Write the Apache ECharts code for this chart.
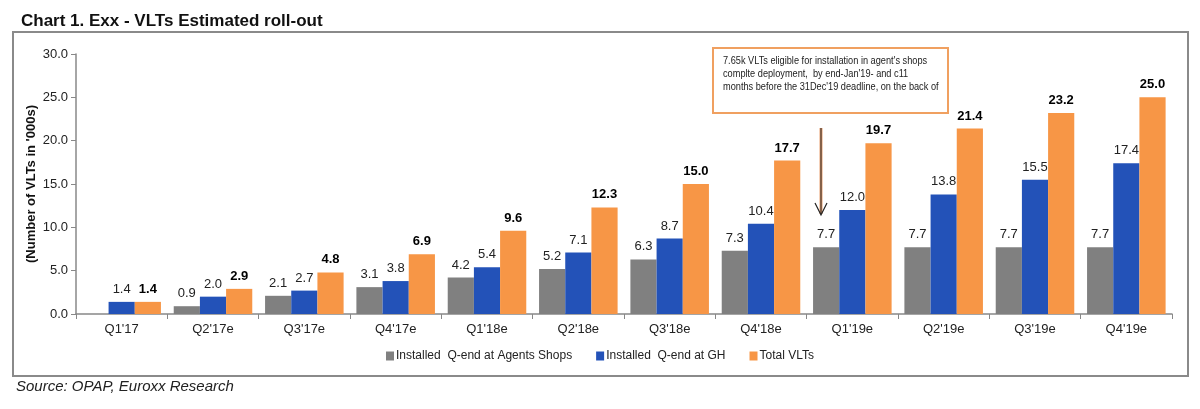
<!DOCTYPE html>
<html><head><meta charset="utf-8">
<script src="https://cdn.jsdelivr.net/npm/echarts@6/dist/echarts.min.js"></script>
<style>html,body{margin:0;padding:0;background:#fff;}#c{width:1200px;height:409px;}</style>
</head><body><div id="c"></div>
<script>
const categories = ["Q1'17","Q2'17e","Q3'17e","Q4'17e","Q1'18e","Q2'18e","Q3'18e","Q4'18e","Q1'19e","Q2'19e","Q3'19e","Q4'19e"];
const agentsShops = [null,0.9,2.1,3.1,4.2,5.2,6.3,7.3,7.7,7.7,7.7,7.7];
const atGH = [1.4,2.0,2.7,3.8,5.4,7.1,8.7,10.4,12.0,13.8,15.5,17.4];
const totalVLTs = [1.4,2.9,4.8,6.9,9.6,12.3,15.0,17.7,19.7,21.4,23.2,25.0];
const yTicks = [0,5,10,15,20,25,30];
const seriesNames = ["Installed  Q-end at Agents Shops","Installed  Q-end at GH","Total VLTs"];

const sans = 'Arial, "Liberation Sans", sans-serif';
const chart = echarts.init(document.getElementById('c'), null, {renderer:'canvas'});
const lbl = (bold) => ({show:true, position:'top', distance:6, fontFamily:sans, fontSize:13, color: bold?'#000':'#222', fontWeight: bold?'bold':'normal', formatter: p => p.value==null?'':Number(p.value).toFixed(1)});
chart.setOption({
  animation:false,
  title:{text:'Chart 1. Exx - VLTs Estimated roll-out', left:16, top:8, textStyle:{fontFamily:sans, fontSize:17, fontWeight:'bold', color:'#111'}},
  grid:{left:76, right:28, top:54, bottom:95},
  legend:{bottom:42, left:'center', itemWidth:8, itemHeight:9, itemGap:24, icon:'rect',
    textStyle:{fontFamily:sans, fontSize:12, color:'#222', padding:[0,0,0,-3]}, data:seriesNames},
  xAxis:{type:'category', data:categories,
    axisLine:{lineStyle:{color:'#888', width:1.5}},
    axisTick:{show:true, length:5, lineStyle:{color:'#888'}},
    axisLabel:{fontFamily:sans, fontSize:13, color:'#222', margin:9}},
  yAxis:{type:'value', min:yTicks[0], max:yTicks[yTicks.length-1], interval:5,
    name:"(Number of VLTs in '000s)", nameLocation:'middle', nameGap:38, nameRotate:90, nameMoveOverlap:false,
    nameTextStyle:{fontFamily:sans, fontSize:13, fontWeight:'bold', color:'#111'},
    axisLine:{show:true, lineStyle:{color:'#888', width:1.5}},
    axisTick:{show:true, length:5, inside:false, lineStyle:{color:'#888'}},
    splitLine:{show:false},
    axisLabel:{fontFamily:sans, fontSize:13, color:'#222', formatter: v => v.toFixed(1)}},
  series:[
    {name:seriesNames[0], type:'bar', data:agentsShops, barGap:'0%', barCategoryGap:'14%', itemStyle:{color:'#808080'}, label:lbl(false)},
    {name:seriesNames[1], type:'bar', data:atGH, barGap:'0%', barCategoryGap:'14%', itemStyle:{color:'#2352B8'}, label:lbl(false)},
    {name:seriesNames[2], type:'bar', data:totalVLTs, barGap:'0%', barCategoryGap:'14%', itemStyle:{color:'#F79646'}, label:lbl(true)}
  ],
  graphic:[
    {type:'rect', shape:{x:13, y:32, width:1175, height:344}, style:{fill:'none', stroke:'#8a8a8a', lineWidth:2}, z:-1},
    {type:'text', left:16, top:379, style:{text:'Source: OPAP, Euroxx Research', font:'italic 15px Arial, "Liberation Sans", sans-serif', fill:'#222'}},
    {type:'rect', shape:{x:713, y:48, width:235, height:65}, style:{fill:'#fff', stroke:'#F0A060', lineWidth:2}},
    {type:'text', x:723, y:54, scaleX:0.8, originX:0, originY:0, style:{text:"7.65k VLTs eligible for installation in agent's shops\ncomplte deployment,  by end-Jan'19- and c11\nmonths before the 31Dec'19 deadline, on the back of", font:'11.5px Arial, "Liberation Sans", sans-serif', fill:'#222', lineHeight:13}},
    {type:'line', shape:{x1:821, y1:128, x2:821, y2:214}, style:{stroke:'#E8A070', lineWidth:3}},
    {type:'line', shape:{x1:821, y1:128, x2:821, y2:214}, style:{stroke:'#222', lineWidth:1}},
    {type:'polyline', shape:{points:[[815,203],[821,215],[827,203]]}, style:{stroke:'#222', lineWidth:1.2, fill:'none'}}
  ]
});
</script></body></html>
